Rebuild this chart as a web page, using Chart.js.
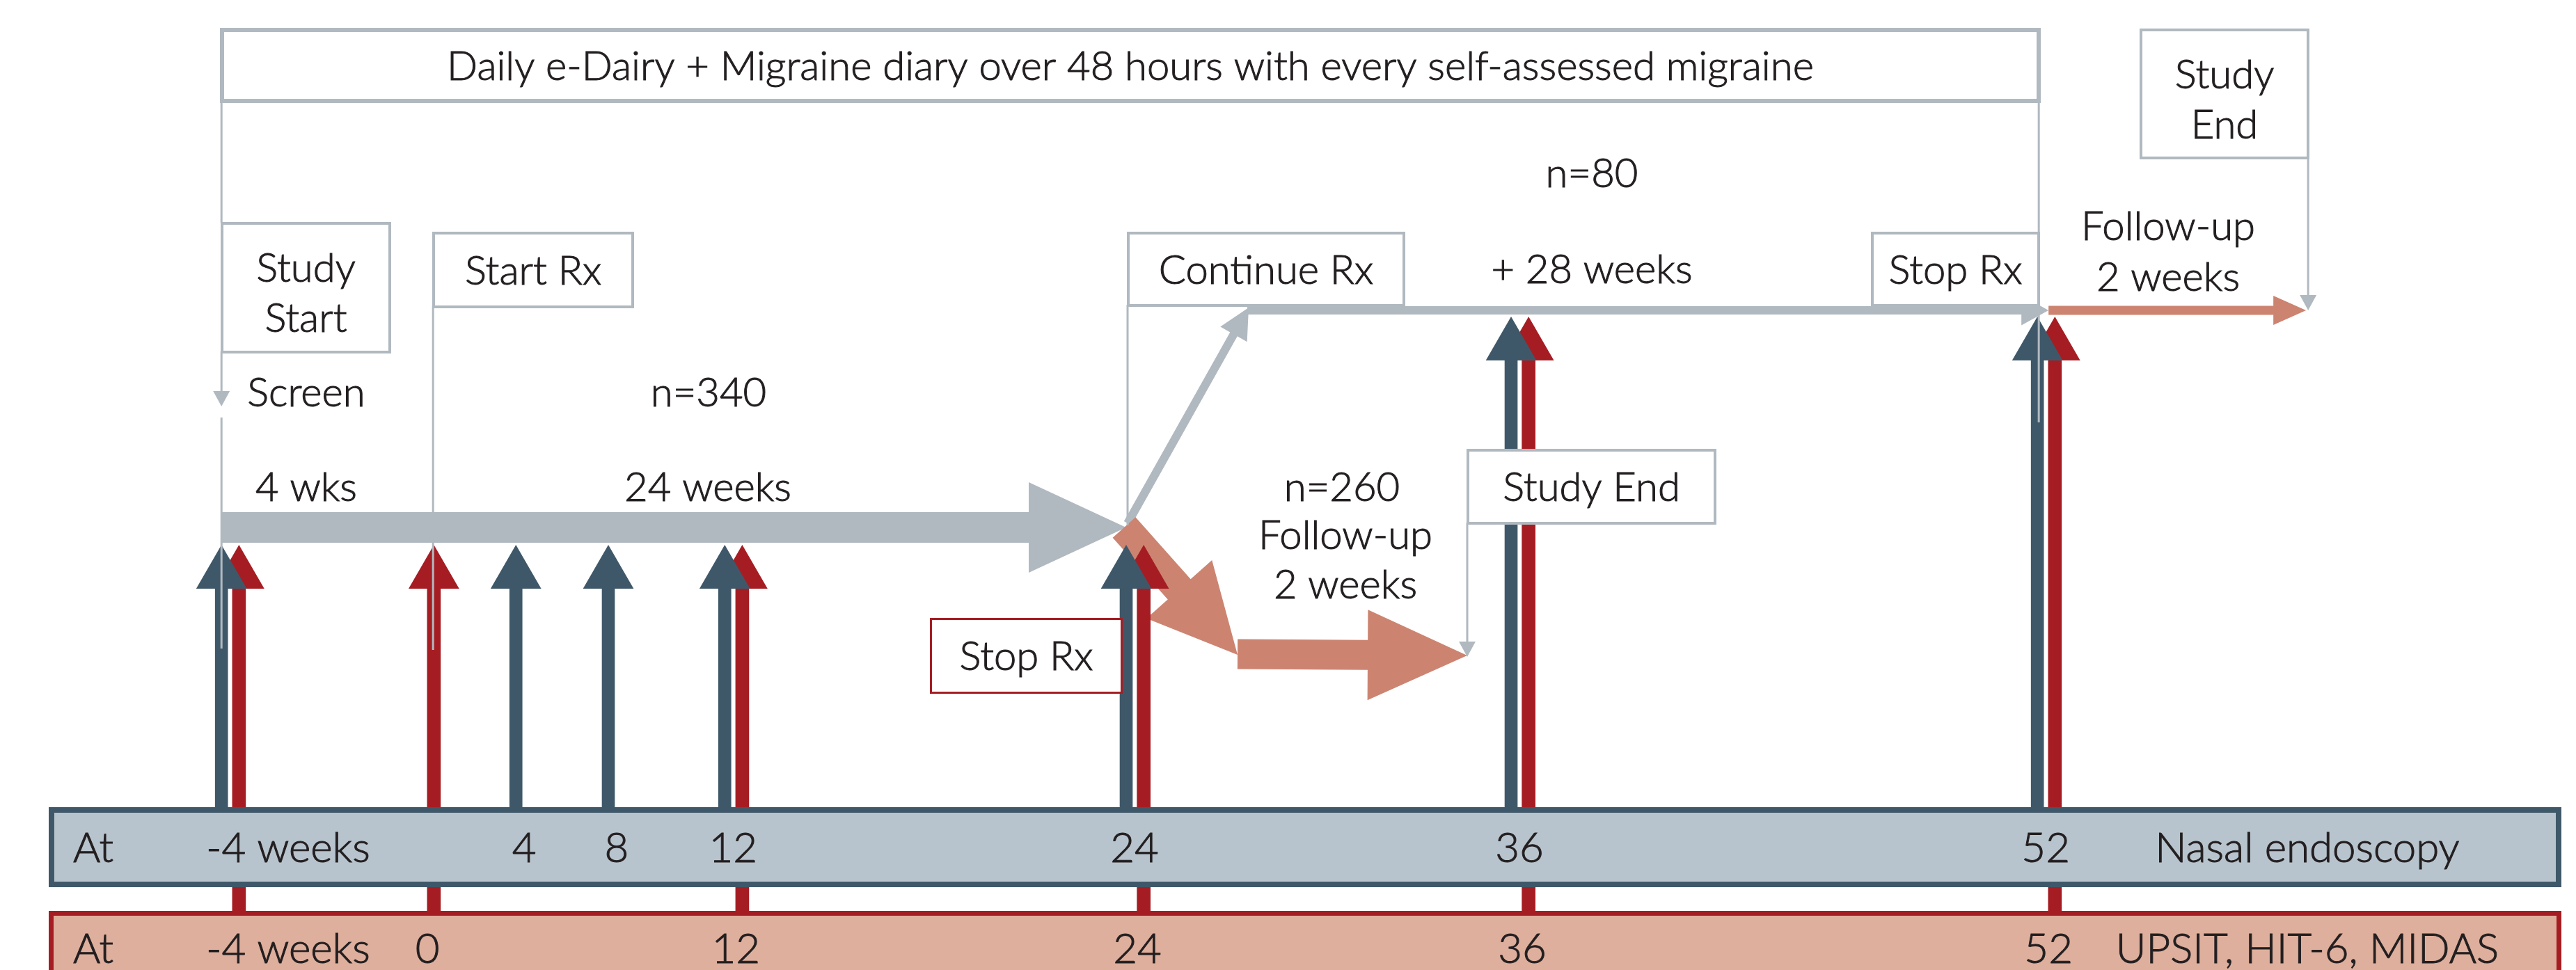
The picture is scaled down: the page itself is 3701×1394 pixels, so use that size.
<!DOCTYPE html>
<html>
<head>
<meta charset="utf-8">
<script src="https://cdn.jsdelivr.net/npm/chart.js@4.4.1/dist/chart.umd.min.js"></script>
<style>
  html, body { margin: 0; padding: 0; background: #fff; }
  canvas { display: block; }
</style>
</head>
<body>
<canvas id="timeline" width="3701" height="1394"></canvas>
<script>
// visit schedule (weeks) of each assessment
const endoscopyWeeks = [-4, 4, 8, 12, 24, 36, 52]
const endoscopyLabels = ['-4 weeks', '4', '8', '12', '24', '36', '52']
const questionnaireWeeks = [-4, 0, 12, 24, 36, 52]
const questionnaireLabels = ['-4 weeks', '0', '12', '24', '36', '52']
const bandTitles = ['Nasal endoscopy', 'UPSIT, HIT-6, MIDAS']

// study arms and phases
const armSizes = [340, 260, 80]
const phaseLabels = ['4 wks', '24 weeks', '+ 28 weeks', '2 weeks']
const diaryText = 'Daily e-Dairy + Migraine diary over 48 hours with every self-assessed migraine'

// the figure is schematic: weeks are not evenly spaced, each week has its drawn slot
const timelineWeeks = [-4, 0, 4, 8, 12, 24, 36, 52, 54]
const timelineSlots = [-4, 2.01, 5.08, 7.93, 11.52, 23.9, 35.77, 52, 60.35]

const INK = '#231f20'
const GREY = '#b1b9c0'
const SLATE = '#3f5869'
const RED = '#a51d23'
const SALMON = '#cc8471'
const SLATE_FILL = '#b8c4cd'
const SALMON_FILL = '#deaf9d'
const FONT = 'Lato, "Open Sans", sans-serif'
const TEXT_SIZE = 58

// layout (pixels on the y axis, which runs top to bottom)
const layout = {
    redShift: 0.54,
    bandTop: 1160, bandBottom: 1275, band2Top: 1309,
    lowHead: 825, highHead: 497, headRadius: 42,
    mainY: 758, followY: 446
}

function interp(xs, ys, v) {
    for (let i = 0; i < xs.length - 1; i++) {
        if (v <= xs[i + 1]) {
            let t = (v - xs[i]) / (xs[i + 1] - xs[i])
            return ys[i] + t * (ys[i + 1] - ys[i])
        }
    }
    return ys[ys.length - 1]
}
const toSlot = w => interp(timelineWeeks, timelineSlots, w)
const headY = w => w > 24 ? layout.highHead : layout.lowHead

function fatArrow(ctx, x0, y0, x1, y1, shaft, head, headLen, color) {
    let len = Math.hypot(x1 - x0, y1 - y0)
    let ux = (x1 - x0) / len, uy = (y1 - y0) / len
    let nx = -uy, ny = ux
    let bx = x1 - ux * headLen, by = y1 - uy * headLen
    ctx.beginPath()
    ctx.moveTo(x0 + nx * shaft / 2, y0 + ny * shaft / 2)
    ctx.lineTo(bx + nx * shaft / 2, by + ny * shaft / 2)
    ctx.lineTo(bx + nx * head / 2, by + ny * head / 2)
    ctx.lineTo(x1, y1)
    ctx.lineTo(bx - nx * head / 2, by - ny * head / 2)
    ctx.lineTo(bx - nx * shaft / 2, by - ny * shaft / 2)
    ctx.lineTo(x0 - nx * shaft / 2, y0 - ny * shaft / 2)
    ctx.closePath()
    ctx.fillStyle = color
    ctx.fill()
}

function thinLine(ctx, x, y0, y1, arrow) {
    ctx.strokeStyle = GREY
    ctx.lineWidth = 3
    ctx.beginPath()
    ctx.moveTo(x, y0)
    ctx.lineTo(x, arrow ? y1 - 18 : y1)
    ctx.stroke()
    if (arrow) {
        ctx.fillStyle = GREY
        ctx.beginPath()
        ctx.moveTo(x - 12, y1 - 22)
        ctx.lineTo(x + 12, y1 - 22)
        ctx.lineTo(x, y1)
        ctx.closePath()
        ctx.fill()
    }
}

function label(ctx, str, x, y, size, align) {
    ctx.font = '300 ' + size + 'px ' + FONT
    ctx.fillStyle = INK
    ctx.strokeStyle = INK
    ctx.lineWidth = 1
    ctx.textAlign = align || 'center'
    ctx.textBaseline = 'alphabetic'
    ctx.fillText(str, x, y + size * 0.36)
    ctx.strokeText(str, x, y + size * 0.36) // a touch heavier than the light face
}

function box(ctx, x0, y0, x1, y1, lines, color, lw) {
    ctx.fillStyle = '#fff'
    ctx.fillRect(x0, y0, x1 - x0, y1 - y0)
    ctx.strokeStyle = color
    ctx.lineWidth = lw
    ctx.strokeRect(x0 + lw / 2, y0 + lw / 2, x1 - x0 - lw, y1 - y0 - lw)
    let cx = (x0 + x1) / 2, cy = (y0 + y1) / 2 + (lines.length > 1 ? 7 : 0)
    lines.forEach((s, i) => label(ctx, s, cx, cy + (i - (lines.length - 1) / 2) * 72, TEXT_SIZE))
}

const diagramPlugin = {
    id: 'diagram',
    beforeDatasetsDraw(chart) {
        let ctx = chart.ctx
        let wx = w => chart.scales.x.getPixelForValue(toSlot(w))
        ctx.save()
        // 340 randomised: screening + treatment
        fatArrow(ctx, wx(-4), layout.mainY, wx(24), layout.mainY, 44, 130, 140, GREY)
        // 80 continue treatment
        fatArrow(ctx, wx(24) + 2, layout.mainY - 6, wx(24) + 176, layout.followY - 4, 12, 44, 44, GREY)
        fatArrow(ctx, wx(24) + 174, layout.followY, wx(52) + 16, layout.followY, 12, 43, 39, GREY)
        fatArrow(ctx, wx(52) + 16, layout.followY, wx(54) - 3, layout.followY, 13, 42, 47, SALMON)
        // 260 stop treatment, follow-up
        fatArrow(ctx, wx(24) - 3, layout.mainY, 1778, 941, 44, 126, 126, SALMON)
        fatArrow(ctx, 1778, 940, 2108, 942, 43, 130, 143, SALMON)
        ctx.restore()
    },
    afterDatasetsDraw(chart) {
        let ctx = chart.ctx
        let wx = w => chart.scales.x.getPixelForValue(toSlot(w))
        ctx.save()

        // assessment bands
        ctx.fillStyle = SLATE_FILL
        ctx.fillRect(70, layout.bandTop, 3610, layout.bandBottom - layout.bandTop)
        ctx.strokeStyle = SLATE
        ctx.lineWidth = 8
        ctx.strokeRect(74, layout.bandTop + 4, 3602, layout.bandBottom - layout.bandTop - 8)
        ctx.fillStyle = SALMON_FILL
        ctx.fillRect(70, layout.band2Top, 3610, 120)
        ctx.strokeStyle = RED
        ctx.lineWidth = 7
        ctx.strokeRect(73.5, layout.band2Top + 3.5, 3603, 140)

        let bandRow = (weeks, labels, title, y, shift) => {
            label(ctx, 'At', 105, y, 60, 'left')
            weeks.forEach((w, i) => {
                if (i === 0) label(ctx, labels[i], wx(w) - 22, y, 60, 'left')
                else label(ctx, labels[i], wx(w) + shift, y, 60)
            })
            label(ctx, title, 3315, y, 60)
        }
        bandRow(endoscopyWeeks, endoscopyLabels, bandTitles[0], 1217, 12)
        bandRow(questionnaireWeeks, questionnaireLabels, bandTitles[1], 1362, 16)

        // connector lines
        thinLine(ctx, wx(-4), 146, 320)
        thinLine(ctx, wx(-4), 505, 584, true)
        thinLine(ctx, wx(-4), 600, 932)
        thinLine(ctx, wx(0) + 24, 440, 934)
        thinLine(ctx, wx(24) + 2, 438, 755)
        thinLine(ctx, wx(52) + 2, 146, 607)
        thinLine(ctx, wx(54), 226, 446, true)
        thinLine(ctx, 2108, 751, 944, true)

        // boxes
        box(ctx, 316, 40, 2932, 148, [diaryText], GREY, 6)
        box(ctx, 317, 319, 562, 508, ['Study', 'Start'], GREY, 4)
        box(ctx, 621, 333, 911, 443, ['Start Rx'], GREY, 4)
        box(ctx, 1619, 333, 2019, 441, ['Continue Rx'], GREY, 4)
        box(ctx, 2688, 333, 2931, 441, ['Stop Rx'], GREY, 4)
        box(ctx, 3074, 41, 3318, 229, ['Study', 'End'], GREY, 4)
        box(ctx, 2107, 645, 2466, 754, ['Study End'], GREY, 4)
        box(ctx, 1336, 888, 1613, 997, ['Stop Rx'], RED, 3)

        // phase annotations
        label(ctx, 'Screen', 440, 563, TEXT_SIZE)
        label(ctx, phaseLabels[0], 440, 699, TEXT_SIZE)
        label(ctx, 'n=' + armSizes[0], 1018, 563, TEXT_SIZE)
        label(ctx, phaseLabels[1], 1017, 699, TEXT_SIZE)
        label(ctx, 'n=' + armSizes[1], 1928, 699, TEXT_SIZE)
        label(ctx, 'Follow-up', 1933, 768, TEXT_SIZE)
        label(ctx, phaseLabels[3], 1933, 839, TEXT_SIZE)
        label(ctx, 'n=' + armSizes[2], 2287, 248, TEXT_SIZE)
        label(ctx, phaseLabels[2], 2287, 386, TEXT_SIZE)
        label(ctx, 'Follow-up', 3115, 324, TEXT_SIZE)
        label(ctx, phaseLabels[3], 3115, 397, TEXT_SIZE)
        ctx.restore()
    }
}

function shafts(weeks, shift, bottom) {
    return weeks.map(w => ({x: toSlot(w) + shift, y: [bottom, headY(w)]}))
}
function heads(weeks, shift) {
    return weeks.map(w => ({x: toSlot(w) + shift, y: headY(w)}))
}

new Chart(document.getElementById('timeline'), {
    type: 'bar',
    data: {
        datasets: [
            {
                type: 'scatter', label: 'endoscopy heads', order: 1,
                data: heads(endoscopyWeeks, 0),
                pointStyle: 'triangle', pointRadius: layout.headRadius,
                pointBackgroundColor: SLATE, pointBorderWidth: 0
            },
            {
                type: 'bar', label: 'endoscopy', order: 2,
                data: shafts(endoscopyWeeks, 0, layout.bandTop),
                backgroundColor: SLATE, barThickness: 18, grouped: false, borderWidth: 0
            },
            {
                type: 'scatter', label: 'questionnaire heads', order: 3,
                data: heads(questionnaireWeeks, layout.redShift),
                pointStyle: 'triangle', pointRadius: layout.headRadius,
                pointBackgroundColor: RED, pointBorderWidth: 0
            },
            {
                type: 'bar', label: 'questionnaires', order: 4,
                data: shafts(questionnaireWeeks, layout.redShift, layout.band2Top),
                backgroundColor: RED, barThickness: 19, grouped: false, borderWidth: 0
            }
        ]
    },
    options: {
        responsive: false,
        animation: false,
        events: [],
        layout: {padding: 0, autoPadding: false},
        plugins: {
            legend: {display: false},
            tooltip: {enabled: false}
        },
        scales: {
            x: {type: 'linear', min: -10.83, max: 68.61, offset: false, display: false},
            y: {type: 'linear', min: 0, max: 1394, reverse: true, display: false}
        }
    },
    plugins: [diagramPlugin]
})
</script>
</body>
</html>
